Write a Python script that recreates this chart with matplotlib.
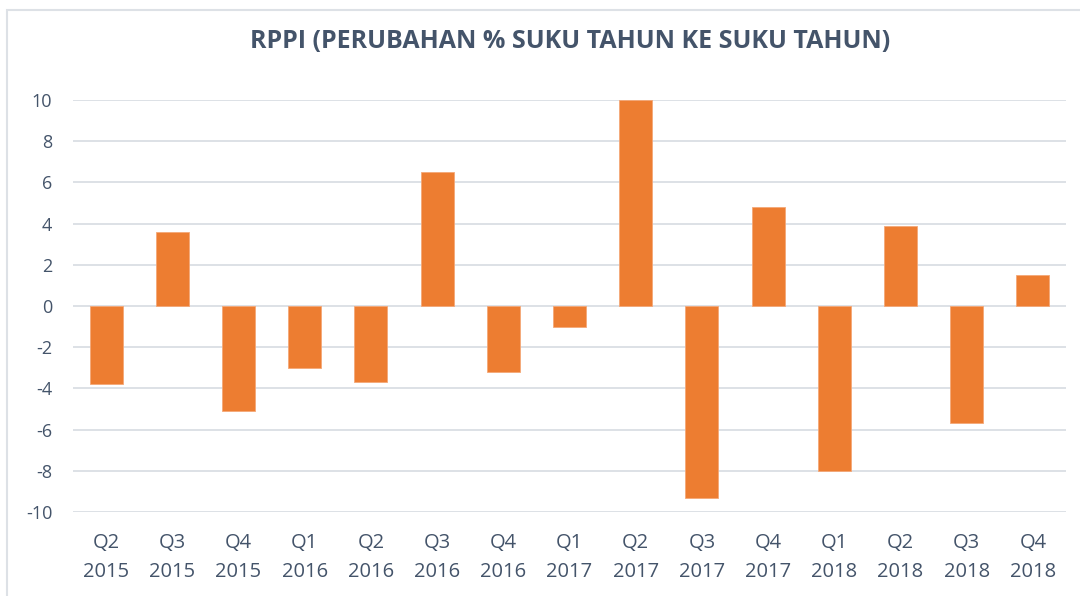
import matplotlib
matplotlib.use("Agg")
import matplotlib.pyplot as plt
from matplotlib.patches import Rectangle

quarters = ["Q2", "Q3", "Q4", "Q1", "Q2", "Q3", "Q4", "Q1", "Q2", "Q3", "Q4", "Q1", "Q2", "Q3", "Q4"]
years = ["2015", "2015", "2015", "2016", "2016", "2016", "2016", "2017", "2017", "2017", "2017", "2018", "2018", "2018", "2018"]
values = [-3.8, 3.6, -5.1, -3.0, -3.7, 6.5, -3.2, -1.0, 10.0, -9.3, 4.8, -8.0, 3.9, -5.7, 1.5]
labels = [f"{q}\n{y}" for q, y in zip(quarters, years)]
yticks = list(range(-10, 11, 2))

text_color = "#44546A"
bar_color = "#ED7D31"
grid_color = "#DDE1E6"

plt.rcParams['font.family'] = ['Open Sans', 'DejaVu Sans']

fig = plt.figure(figsize=(10.8, 5.96), dpi=100)
fig.patch.set_facecolor("white")

# chart border
fig.add_artist(Rectangle((7 / 1080, -0.1), 1.2, 1.1 - 10.5 / 596, transform=fig.transFigure,
                         fill=False, edgecolor="#DDE1E6", linewidth=1.5))

ax = fig.add_axes([73 / 1080, 84 / 596, (1066 - 73) / 1080, 412 / 596])
x = list(range(len(values)))
ax.bar(x, values, width=0.5, color=bar_color, edgecolor="#F4A877", linewidth=0.6, zorder=3)

ax.set_xlim(-0.5, len(values) - 0.5)
ax.set_ylim(-10, 10)
ax.set_yticks(yticks)
ax.set_yticklabels([str(v) for v in yticks])
ax.set_xticks(x)
ax.set_xticklabels(labels, linespacing=1.6)

for s in ax.spines.values():
    s.set_visible(False)
ax.yaxis.grid(True, color=grid_color, linewidth=1.4, zorder=0)
ax.tick_params(axis='both', length=0, colors=text_color)
ax.tick_params(axis='y', pad=15, labelsize=13)
ax.tick_params(axis='x', pad=15, labelsize=14.5)

fig.text(0.528, 1 - 42 / 596, "RPPI (PERUBAHAN % SUKU TAHUN KE SUKU TAHUN)", ha="center", va="center",
         fontsize=18, fontweight="bold", color=text_color)

fig.savefig("out.png", dpi=100, facecolor="white")
